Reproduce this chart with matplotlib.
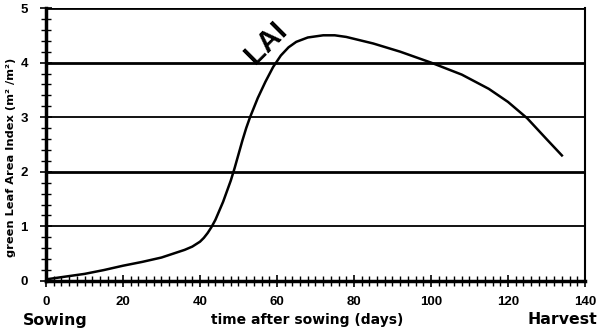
import matplotlib
matplotlib.use("Agg")
import matplotlib.pyplot as plt
from matplotlib.ticker import MultipleLocator

plt.rcParams['font.family'] = ['Liberation Sans', 'DejaVu Sans']

# Green leaf area index over the season
days = [0, 5, 10, 15, 20, 25, 30, 33, 36, 38, 40, 41, 42, 43, 44, 46, 48, 49, 50, 51, 52,
        53, 55, 57, 59, 61, 63, 65, 68, 72, 75, 78, 85, 92, 100, 108, 115, 120, 125, 130, 134]
lai = [0.03, 0.08, 0.13, 0.2, 0.28, 0.35, 0.43, 0.5, 0.57, 0.63, 0.72, 0.79, 0.88, 0.99,
       1.12, 1.45, 1.84, 2.07, 2.32, 2.57, 2.8, 3.0, 3.35, 3.65, 3.92, 4.13, 4.28, 4.38,
       4.46, 4.5, 4.5, 4.47, 4.35, 4.2, 4.0, 3.78, 3.52, 3.28, 2.98, 2.6, 2.3]

xticks = [0, 20, 40, 60, 80, 100, 120, 140]
yticks = [0, 1, 2, 3, 4, 5]

W, H = 599, 328
fig = plt.figure(figsize=(W / 100, H / 100), dpi=100)
ax = fig.add_axes([0.0768, 0.1433, 0.8998, 0.8323])

for y, lw in zip([1, 2, 3, 4, 5], [1.3, 2.0, 1.3, 2.0, 2.0]):
    ax.axhline(y, color='black', lw=lw, zorder=1)

ax.plot(days, lai, color='black', lw=1.8, zorder=3)

ax.set_xlim(0, 140)
ax.set_ylim(0, 5)
ax.set_xticks(xticks)
ax.set_yticks(yticks)
ax.xaxis.set_minor_locator(MultipleLocator(2))
ax.yaxis.set_minor_locator(MultipleLocator(0.2))
ax.tick_params(axis='both', which='major', direction='inout', length=8, width=1.2,
               labelsize=9.5)
ax.tick_params(axis='x', which='major', pad=7)
ax.tick_params(axis='y', which='major', pad=9)
ax.tick_params(axis='both', which='minor', direction='inout', length=7, width=1.0)
ax.tick_params(axis='x', which='both', top=False)
ax.tick_params(axis='y', which='both', right=False)
for lab in ax.get_xticklabels() + ax.get_yticklabels():
    lab.set_fontweight('bold')

ax.spines['left'].set_linewidth(2.5)
ax.spines['bottom'].set_linewidth(2.5)
ax.spines['right'].set_linewidth(1.5)
ax.spines['top'].set_visible(False)

bold_wide = dict(family=['DejaVu Sans'], fontweight='bold')

fig.text(11 / W, 1 - 157 / H, 'green Leaf Area Index (m² /m²)', rotation=90,
         fontsize=8.2, ha='center', va='center', **bold_wide)
fig.text(307 / W, 1 - 324 / H, 'time after sowing (days)', fontsize=10,
         ha='center', va='baseline', **bold_wide)
fig.text(55 / W, 1 - 324.5 / H, 'Sowing', fontsize=11.3, ha='center', va='baseline',
         **bold_wide)
fig.text(597 / W, 1 - 324.5 / H, 'Harvest', fontsize=11.3, ha='right', va='baseline',
         **bold_wide)

ax.text(57.2, 4.36, 'LAI', fontsize=21, fontweight='bold', rotation=45,
        ha='center', va='center', zorder=4)

fig.savefig('out.png', dpi=100)
